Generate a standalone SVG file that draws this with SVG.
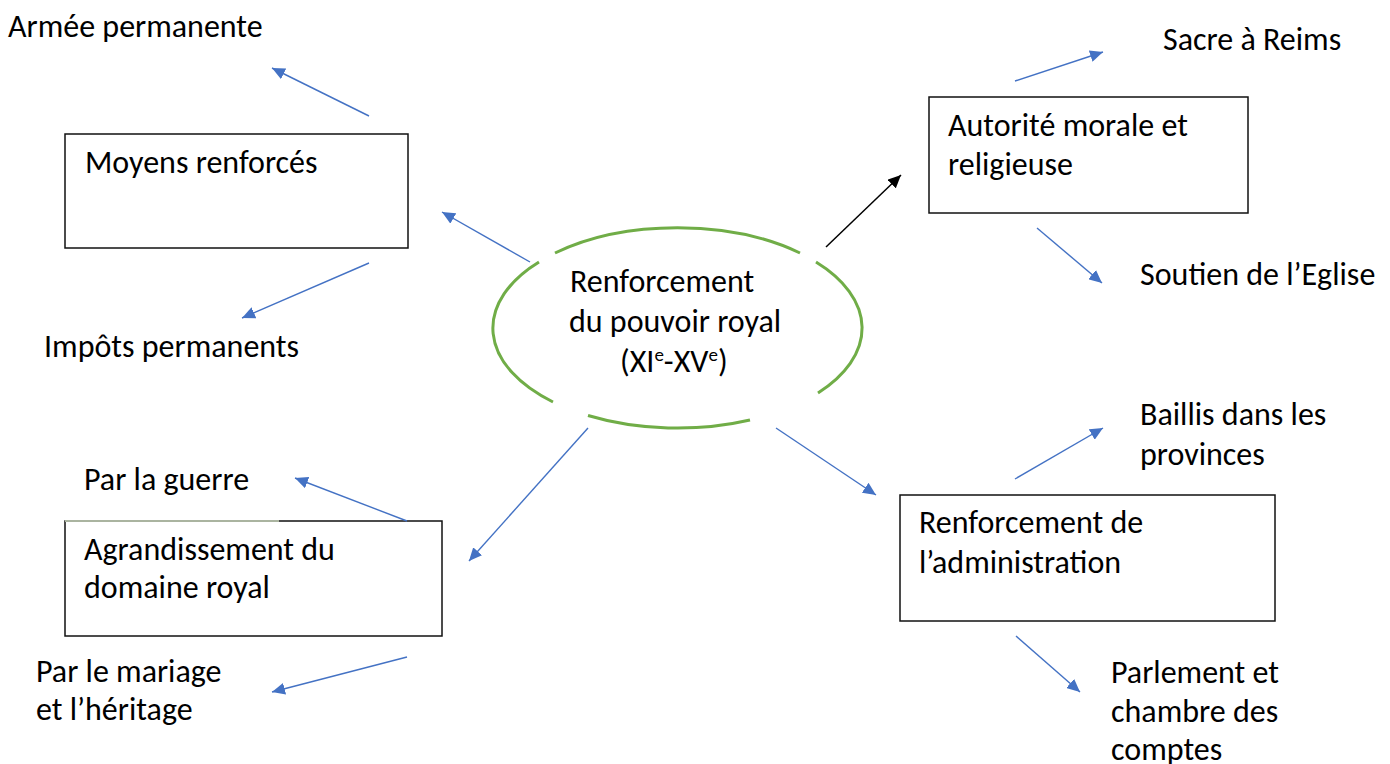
<svg xmlns="http://www.w3.org/2000/svg" width="1390" height="764" viewBox="0 0 1390 764">
<style>
text{font-family:"Carlito","Liberation Sans",Arial,sans-serif;font-size:32px;fill:#000}
.box{fill:#fff;stroke:#111;stroke-width:1.5}
.c{stroke:#4472C4;stroke-width:1.4;fill:none;marker-end:url(#ab)}
.k{stroke:#000;stroke-width:1.5;fill:none;marker-end:url(#ak)}
.ell{fill:none;stroke:#70AD47;stroke-width:3}
</style>
<defs>
<marker id="ab" viewBox="0 0 13 12" refX="13" refY="6" markerWidth="13" markerHeight="12" orient="auto" markerUnits="userSpaceOnUse"><path d="M0,0 L13,6 L0,12 z" fill="#4472C4"/></marker>
<marker id="ak" viewBox="0 0 13 12" refX="13" refY="6" markerWidth="13" markerHeight="12" orient="auto" markerUnits="userSpaceOnUse"><path d="M0,0 L13,6 L0,12 z" fill="#000"/></marker>
</defs>
<rect width="1390" height="764" fill="#fff"/>
<g id="center">
<path class="ell" d="M539 262 A184.5 100 0 0 0 553 402"/>
<path class="ell" d="M555 253 A184.5 100 0 0 1 800 253"/>
<path class="ell" d="M816 262 A184.5 100 0 0 1 818 393"/>
<path class="ell" d="M750 420 A184.5 100 0 0 1 588 415.5"/>
<text x="570" y="292">Renforcement</text>
<text x="569" y="332">du pouvoir royal</text>
<text x="620" y="372">(XI<tspan font-size="19" dy="-11">e</tspan><tspan dy="11">-XV</tspan><tspan font-size="19" dy="-11">e</tspan><tspan dy="11">)</tspan></text>
</g>
<g id="moyens">
<rect class="box" x="65" y="134" width="343" height="114"/>
<text x="85" y="173">Moyens renforcés</text>
</g>
<g id="armee"><text x="8" y="37">Armée permanente</text></g>
<g id="impots"><text x="44" y="357">Impôts permanents</text></g>
<g id="autorite">
<rect class="box" x="929" y="97" width="319" height="116"/>
<text x="948" y="136">Autorité morale et</text>
<text x="948" y="175">religieuse</text>
</g>
<g id="sacre"><text x="1163" y="50">Sacre à Reims</text></g>
<g id="soutien"><text x="1140" y="285">Soutien de l’Eglise</text></g>
<g id="admin">
<rect class="box" x="900" y="495" width="375" height="126"/>
<text x="919" y="533">Renforcement de</text>
<text x="919" y="573">l’administration</text>
</g>
<g id="baillis"><text x="1140" y="425">Baillis dans les</text><text x="1140" y="465">provinces</text></g>
<g id="parlement"><text x="1111" y="683">Parlement et</text><text x="1111" y="722">chambre des</text><text x="1111" y="760">comptes</text></g>
<g id="agrandissement">
<rect class="box" x="65" y="521" width="377" height="115"/>
<line x1="65" y1="521" x2="279" y2="521" stroke="#aab4a0" stroke-width="2"/>
<text x="84" y="560">Agrandissement du</text>
<text x="84" y="598">domaine royal</text>
</g>
<g id="guerre"><text x="84" y="490">Par la guerre</text></g>
<g id="mariage"><text x="36" y="682">Par le mariage</text><text x="36" y="720">et l’héritage</text></g>
<g id="connectors">
<line class="c" x1="369" y1="116" x2="272" y2="68"/>
<line class="c" x1="530" y1="262" x2="442" y2="212"/>
<line class="c" x1="369" y1="263" x2="242" y2="318"/>
<line class="k" x1="826" y1="247" x2="901" y2="175"/>
<line class="c" x1="1015" y1="81" x2="1103" y2="52"/>
<line class="c" x1="1037" y1="228" x2="1102" y2="283"/>
<line class="c" x1="588" y1="428" x2="469" y2="561"/>
<line class="c" x1="776" y1="428" x2="876" y2="495"/>
<line class="c" x1="1015" y1="479" x2="1103" y2="428"/>
<line class="c" x1="1016" y1="636" x2="1080" y2="692"/>
<line class="c" x1="407" y1="521" x2="295" y2="478"/>
<line class="c" x1="407" y1="657" x2="272" y2="692"/>
</g>
</svg>
